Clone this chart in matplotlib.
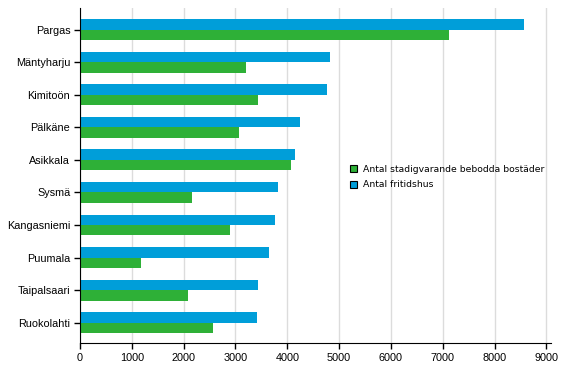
import matplotlib.pyplot as plt
import numpy as np

municipalities = ["Pargas", "Mäntyharju", "Kimitoön", "Pälkäne", "Asikkala",
                  "Sysmä", "Kangasniemi", "Puumala", "Taipalsaari", "Ruokolahti"]
fritidshus = [8570, 4830, 4770, 4250, 4150, 3820, 3760, 3650, 3440, 3420]
bostader = [7120, 3200, 3440, 3070, 4070, 2160, 2900, 1180, 2080, 2570]

blue = "#009ed9"
green = "#2eb037"

fig = plt.figure(figsize=(5.67, 3.78), dpi=100)
ax = fig.add_axes([80 / 567, 1 - 343 / 378, 471 / 567, 335 / 378])

y = np.arange(len(municipalities))
h = 0.32
ax.barh(y - h / 2, fritidshus, height=h, color=blue, label="Antal fritidshus", zorder=2)
ax.barh(y + h / 2, bostader, height=h, color=green,
        label="Antal stadigvarande bebodda bostäder", zorder=2)

ax.set_ylim(9.62, -0.66)
ax.set_xlim(0, 9090)
ax.set_xticks(range(0, 9001, 1000))
ax.set_yticks(y)
ax.set_yticklabels(municipalities, family="Liberation Sans", fontsize=7.8)
for lbl in ax.get_xticklabels():
    lbl.set_family("Liberation Sans")
    lbl.set_fontsize(7.8)

ax.grid(axis="x", color="#dcdcdc", linewidth=1, zorder=0)
ax.spines["top"].set_visible(False)
ax.spines["right"].set_visible(False)
ax.tick_params(axis="both", length=4.5, width=1, color="black", pad=2.5)

handles, labels = ax.get_legend_handles_labels()
leg = ax.legend(handles[::-1], labels[::-1], loc="center left",
                bbox_to_anchor=(0.555, 0.495), frameon=False,
                prop={"family": "DejaVu Sans", "size": 6.7},
                handlelength=0.8, handleheight=0.8, handletextpad=0.6,
                labelspacing=0.7)
for p in leg.get_patches():
    p.set_edgecolor("black")
    p.set_linewidth(0.8)

fig.savefig("out.png", dpi=100)
